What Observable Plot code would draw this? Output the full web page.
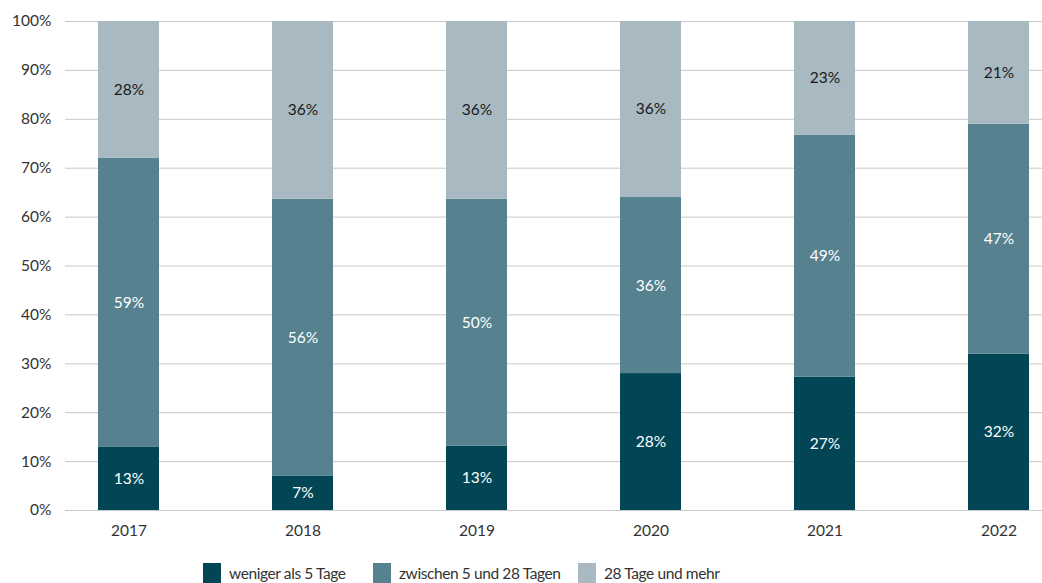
<!DOCTYPE html>
<html>
<head>
<meta charset="utf-8">
<script src="https://cdn.jsdelivr.net/npm/d3@7"></script>
<script src="https://cdn.jsdelivr.net/npm/@observablehq/plot@0.6"></script>
<style>
  body { margin: 0; background: #fff; font-family: Lato, "Open Sans", sans-serif; overflow: hidden; }
  #legend { position: relative; height: 38px; margin-top: 18px; font-size: 15.5px; color: #333; letter-spacing: -0.4px; }
  .item { position: absolute; top: 0; display: flex; align-items: center; white-space: nowrap; }
  .sw { width: 18px; height: 20px; margin-right: 8px; }
</style>
</head>
<body>
<div id="chart"></div>
<div id="legend"></div>
<script>
const years = ["2017", "2018", "2019", "2020", "2021", "2022"];
const seriesNames = ["weniger als 5 Tage", "zwischen 5 und 28 Tagen", "28 Tage und mehr"];
const seriesColors = ["#024656", "#56818e", "#a9b9c2"];
const lessThan5 = [13, 7, 13, 28, 27, 32];
const between5and28 = [59, 56, 50, 36, 49, 47];
const over28 = [28, 36, 36, 36, 23, 21];
const yTicks = [0, 0.1, 0.2, 0.3, 0.4, 0.5, 0.6, 0.7, 0.8, 0.9, 1];
const legendLeft = [203, 373, 578];

const seriesValues = [lessThan5, between5and28, over28];
const data = [];
seriesNames.forEach((s, i) => {
  years.forEach((y, j) => data.push({year: y, series: s, value: seriesValues[i][j]}));
});

const stackOpts = {x: "year", y: "value", z: "series", offset: "normalize"};
const last = seriesNames[2];

const chart = Plot.plot({
  width: 1042,
  height: 545,
  marginTop: 21,
  marginBottom: 35,
  marginLeft: 65,
  marginRight: 0,
  style: {fontFamily: "Lato, 'Open Sans', sans-serif", fontSize: "15.5px", color: "#333"},
  x: {domain: years, range: [-16, 1143], padding: 0.65, label: null, tickSize: 0, tickPadding: 14},
  y: {domain: [0, 1], ticks: yTicks, tickFormat: d3.format(".0%"), label: null, tickSize: 0, tickPadding: 14},
  color: {domain: seriesNames, range: seriesColors},
  marks: [
    Plot.ruleY(yTicks, {stroke: "#c8c8c8", strokeWidth: 1}),
    Plot.barY(data, Plot.stackY({...stackOpts, fill: "series"})),
    Plot.text(data, Plot.stackY({...stackOpts, text: d => d.series !== last ? d.value + "%" : "", fill: "white", fontSize: 15.5})),
    Plot.text(data, Plot.stackY({...stackOpts, text: d => d.series === last ? d.value + "%" : "", fill: "#1a1a1a", fontSize: 15.5}))
  ]
});
document.getElementById("chart").appendChild(chart);

const legend = document.getElementById("legend");
seriesNames.forEach((s, i) => {
  const item = document.createElement("div");
  item.className = "item";
  item.style.left = legendLeft[i] + "px";
  const sw = document.createElement("span");
  sw.className = "sw";
  sw.style.background = seriesColors[i];
  const t = document.createElement("span");
  t.textContent = s;
  item.appendChild(sw);
  item.appendChild(t);
  legend.appendChild(item);
});
</script>
</body>
</html>
